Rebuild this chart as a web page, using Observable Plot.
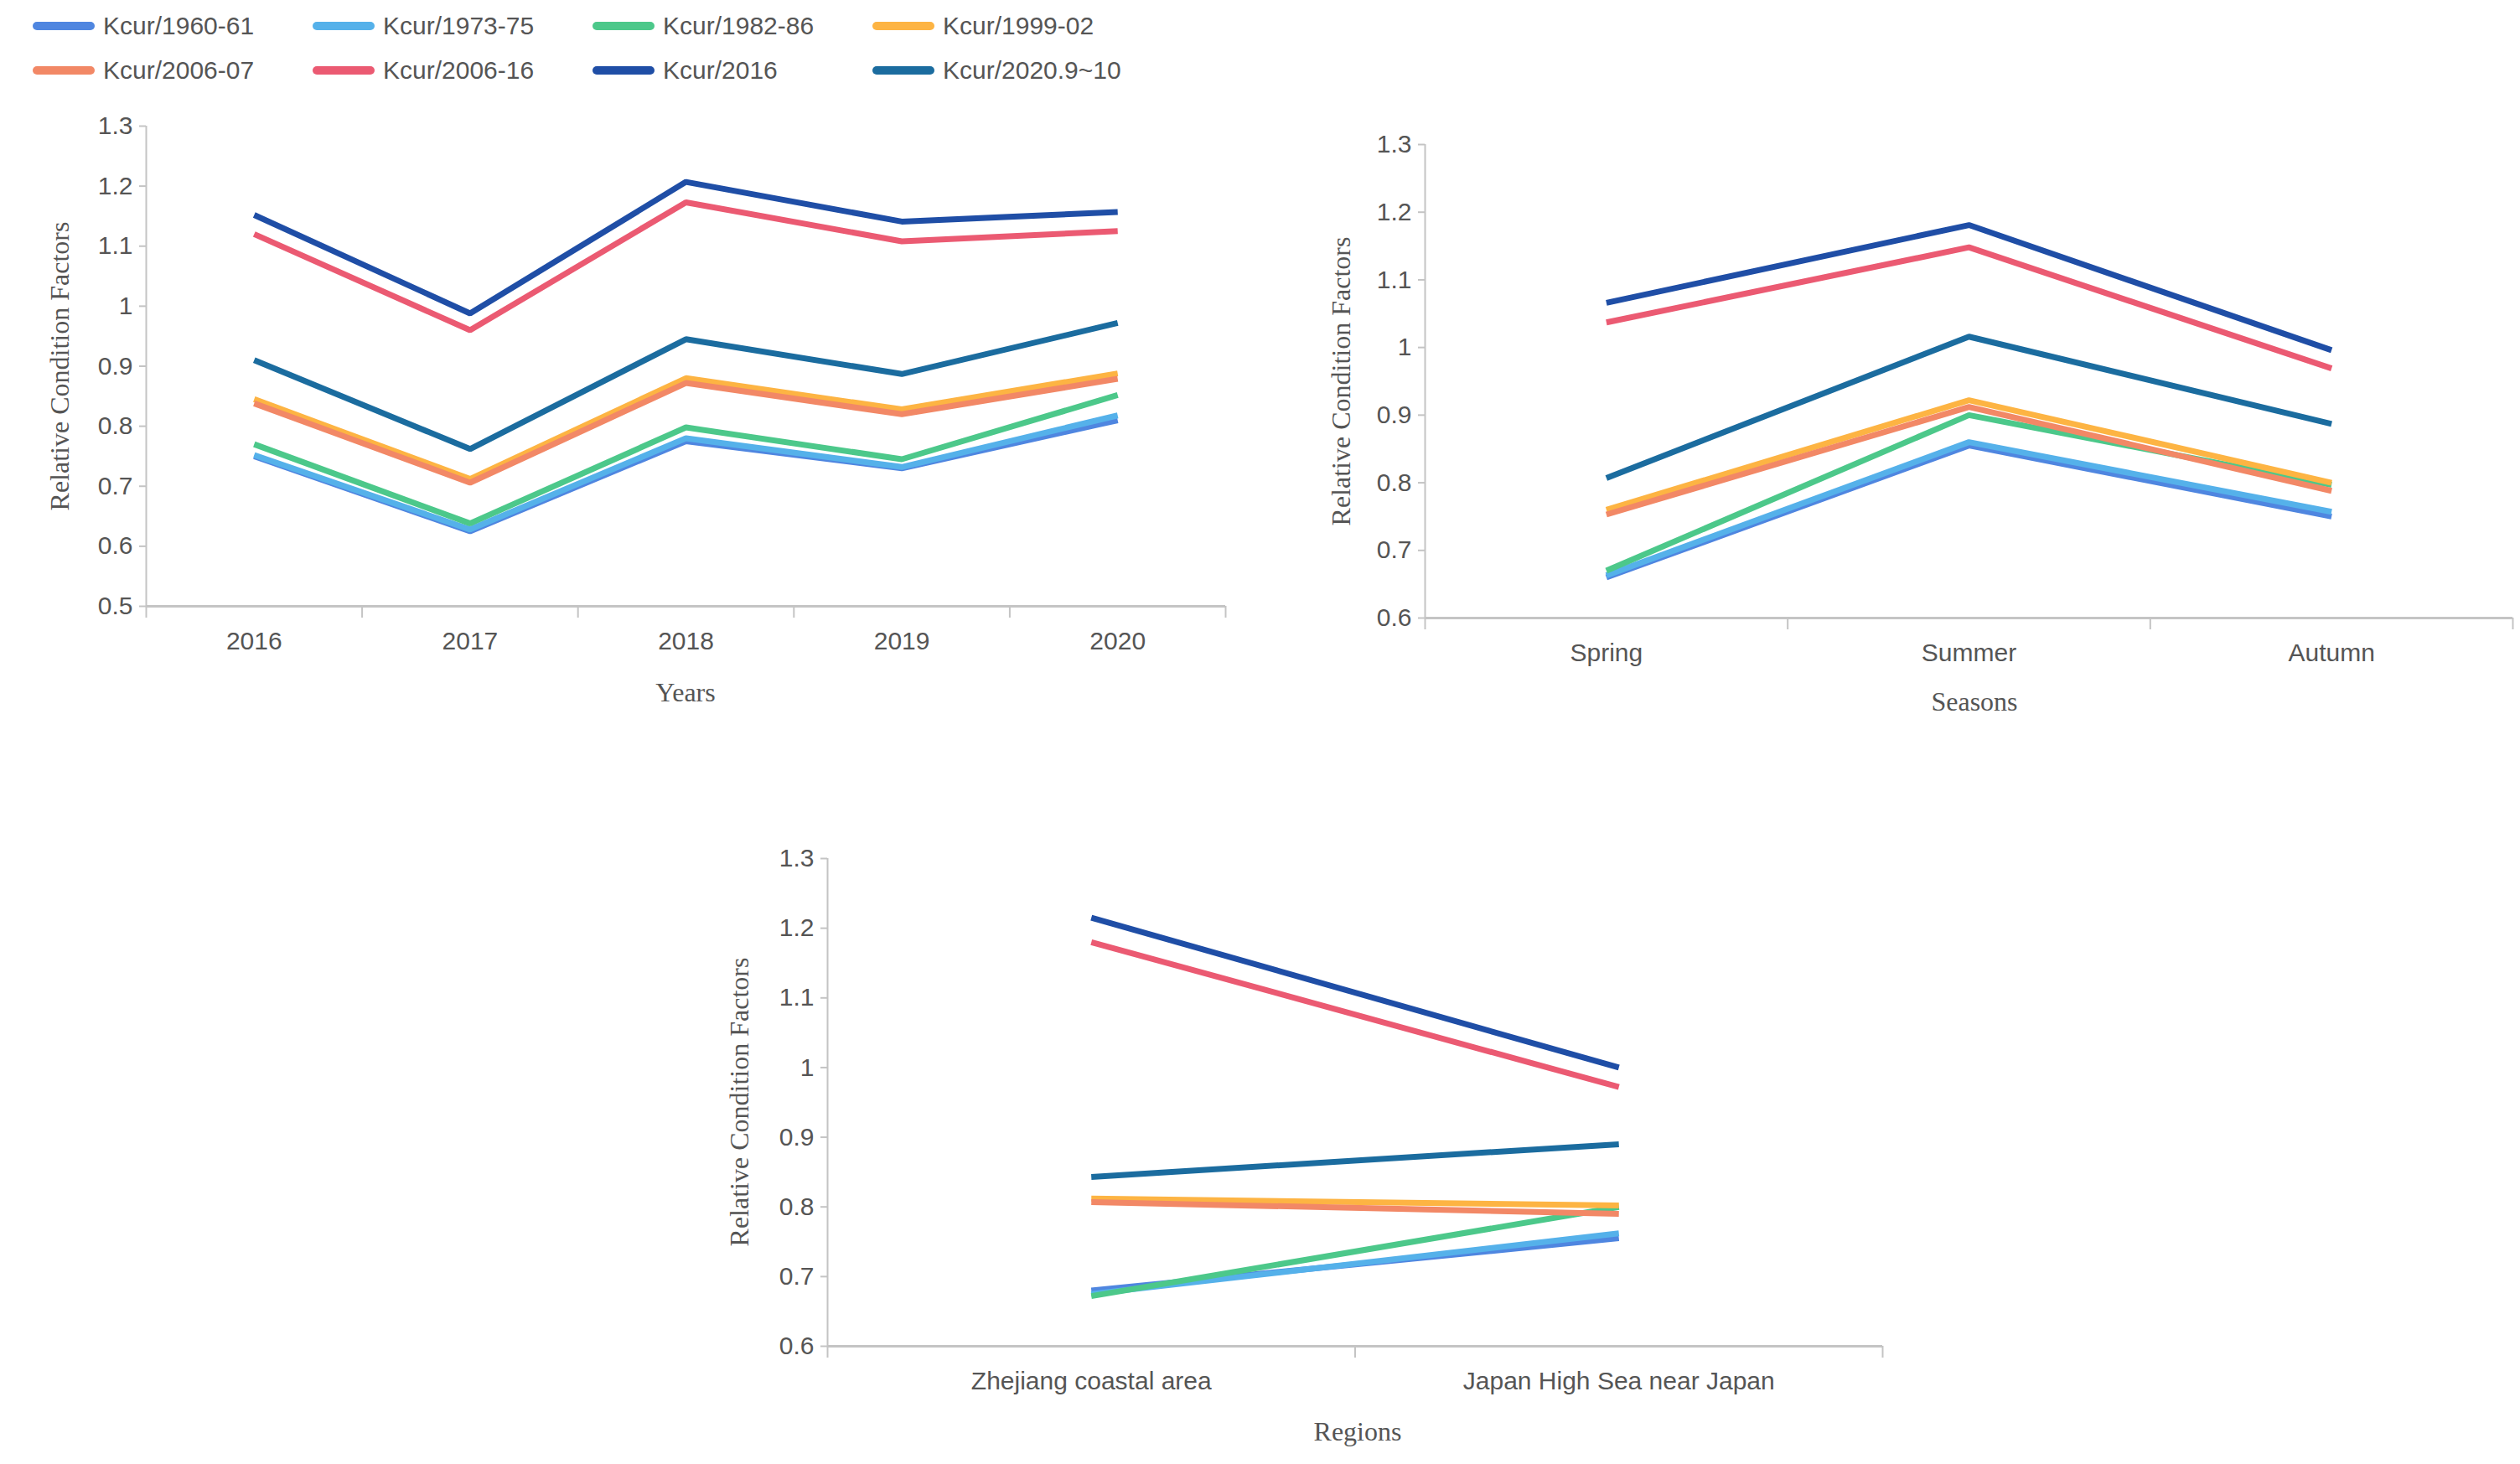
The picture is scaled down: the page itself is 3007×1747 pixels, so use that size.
<!DOCTYPE html>
<html><head><meta charset="utf-8">
<script src="https://cdn.jsdelivr.net/npm/d3@7"></script>
<script src="https://cdn.jsdelivr.net/npm/@observablehq/plot@0.6"></script>
<style>
body{margin:0;background:#fff;overflow:hidden}
#root{position:relative;width:3007px;height:1747px}
.abs{position:absolute}
.leg{position:absolute;font-family:"Liberation Sans Narrow","Liberation Sans",Arial,sans-serif;font-size:30px;color:#555;display:flex;align-items:center;white-space:nowrap}
.sw{width:74px;height:10px;border-radius:5px;margin-right:10px}
.title{position:absolute;font-family:"Liberation Serif","Times New Roman",serif;font-size:32px;color:#555;white-space:nowrap}
</style></head><body><div id="root"></div>
<script>
const series = ["Kcur/1960-61","Kcur/1973-75","Kcur/1982-86","Kcur/1999-02","Kcur/2006-07","Kcur/2006-16","Kcur/2016","Kcur/2020.9~10"];
const colors = ["#4f86e0","#55b1ea","#4cc88a","#fdb443","#f28866","#eb5a72","#1f4ea6","#1b6c9f"];

const years = ["2016","2017","2018","2019","2020"];
const yearValues = [
  [0.750,0.625,0.775,0.730,0.810],
  [0.752,0.628,0.780,0.732,0.818],
  [0.770,0.638,0.798,0.745,0.852],
  [0.845,0.712,0.880,0.828,0.888],
  [0.838,0.706,0.872,0.820,0.879],
  [1.120,0.960,1.173,1.108,1.125],
  [1.152,0.988,1.207,1.141,1.157],
  [0.910,0.762,0.945,0.887,0.972]
];
const seasons = ["Spring","Summer","Autumn"];
const seasonValues = [
  [0.660,0.855,0.750],
  [0.663,0.860,0.757],
  [0.670,0.900,0.797],
  [0.760,0.922,0.800],
  [0.753,0.912,0.788],
  [1.037,1.148,0.969],
  [1.066,1.181,0.996],
  [0.807,1.016,0.887]
];
const regions = ["Zhejiang coastal area","Japan High Sea near Japan"];
const regionValues = [
  [0.680,0.755],
  [0.675,0.762],
  [0.672,0.800],
  [0.812,0.802],
  [0.807,0.790],
  [1.180,0.972],
  [1.215,1.000],
  [0.843,0.890]
];
const yTicks1 = [0.5,0.6,0.7,0.8,0.9,1,1.1,1.2,1.3];
const yTicks2 = [0.6,0.7,0.8,0.9,1,1.1,1.2,1.3];

const root = document.getElementById("root");

// legend
series.forEach((s,i)=>{
  const d = document.createElement("div");
  d.className="leg";
  d.style.left = (39 + (i%4)*334) + "px";
  d.style.top = (14 + Math.floor(i/4)*53) + "px";
  d.innerHTML = `<div class="sw" style="background:${colors[i]}"></div><span>${s}</span>`;
  root.appendChild(d);
});

function panel(cats, values, yTicks, L, T, W, H, mr, xTitle, xt, yt, ylx){
  const rows = [];
  values.forEach((vals,si)=>vals.forEach((v,ci)=>rows.push({s:series[si], x:ci, y:v})));
  const n = cats.length;
  const ml=180, mt=30, mb=90;
  const bounds = d3.range(n+1).map(i=>i-0.5);
  const yMin = yTicks[0], yMax = yTicks[yTicks.length-1];
  const chart = Plot.plot({
    width: W+ml+mr, height: H+mt+mb,
    marginLeft: ml, marginRight: mr, marginTop: mt, marginBottom: mb,
    style:{fontFamily:'"Liberation Sans Narrow","Liberation Sans",Arial,sans-serif', fontSize:"30px", color:"#555", background:"transparent"},
    x:{domain:[-0.5,n-0.5]},
    y:{domain:[yMin,yMax]},
    color:{domain:series, range:colors},
    marks:[
      Plot.ruleX([-0.5],{stroke:"#c4c4c4", strokeWidth:2}),
      Plot.ruleY([yMin],{stroke:"#c4c4c4", strokeWidth:3}),
      Plot.axisX({ticks:bounds, tickFormat:()=>"", tickSize:14, stroke:"#c4c4c4", strokeWidth:2, label:null}),
      Plot.axisX({ticks:d3.range(n), tickFormat:i=>cats[i], tickSize:0, tickPadding:30, label:null, fill:"#555"}),
      Plot.axisY({ticks:yTicks, tickFormat:d=>String(+d.toFixed(1)), tickSize:8, tickPadding:8, stroke:"#c4c4c4", strokeWidth:2, label:null, fill:"#555"}),
      Plot.line(rows,{x:"x", y:"y", z:"s", stroke:"s", strokeWidth:7, strokeLinejoin:"miter", strokeLinecap:"butt"})
    ]
  });
  chart.classList.add("abs");
  chart.style.left = (L-ml)+"px";
  chart.style.top = (T-mt)+"px";
  root.appendChild(chart);
  const xl = document.createElement("div");
  xl.className="title"; xl.textContent = xTitle;
  xl.style.left = xt[0]+"px"; xl.style.top = xt[1]+"px"; xl.style.transform="translate(-50%,-50%)";
  root.appendChild(xl);
  const yl = document.createElement("div");
  yl.className="title"; yl.textContent = "Relative Condition Factors";
  yl.style.left = ylx+"px"; yl.style.top = (T+H/2)+"px"; yl.style.transform="translate(-50%,-50%) rotate(-90deg)";
  root.appendChild(yl);
}

panel(years, yearValues, yTicks1, 174, 150, 1288, 573, 20, "Years", [818,826], null, 71);
panel(seasons, seasonValues, yTicks2, 1700, 172, 1298, 565, 9, "Seasons", [2356,837], null, 1600);
panel(regions, regionValues, yTicks2, 987, 1024, 1259, 582, 20, "Regions", [1620,1708], null, 882);
</script></body></html>
